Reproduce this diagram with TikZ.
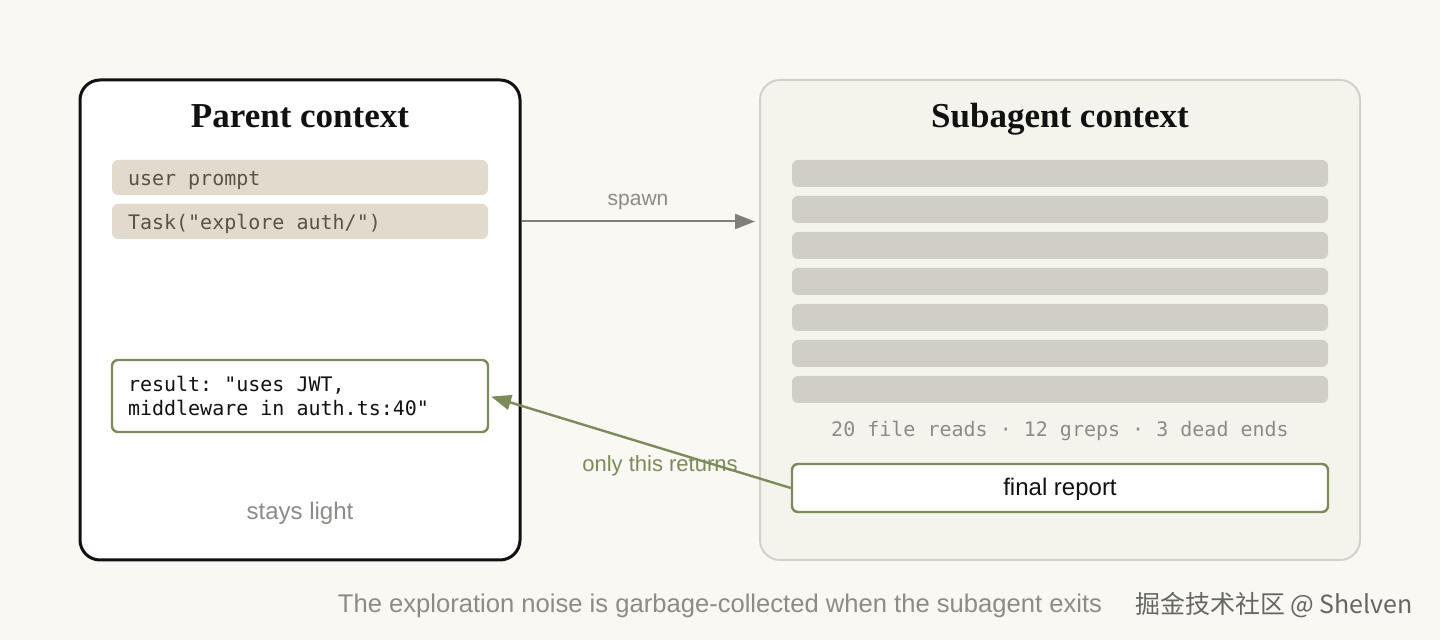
\documentclass[tikz,border=0pt]{standalone}
\usepackage{fontspec}
\setmainfont{Liberation Serif}
\setsansfont{Liberation Sans}
\setmonofont[WordSpace={1,0,0}]{DejaVu Sans Mono}
\newfontfamily\cjkfont{Noto Sans CJK SC}
\usetikzlibrary{arrows.meta}

\definecolor{bgpaper}{RGB}{249,248,243}
\definecolor{parentline}{RGB}{17,17,17}
\definecolor{promptfill}{RGB}{226,218,204}
\definecolor{prompttext}{RGB}{90,82,72}
\definecolor{resultgreen}{RGB}{125,138,92}
\definecolor{subfill}{RGB}{245,244,236}
\definecolor{subline}{RGB}{211,209,201}
\definecolor{noisefill}{RGB}{209,206,198}
\definecolor{softgray}{RGB}{140,140,134}
\definecolor{spawngray}{RGB}{128,128,120}

\begin{document}
\begin{tikzpicture}[x=0.5pt,y=0.5pt,yscale=-1,xscale=1,
    ctxbox/.style={rounded corners=10pt, inner sep=0pt, minimum width=220pt, minimum height=240pt},
    parentbox/.style={ctxbox, draw=parentline, line width=1.5pt, fill=white},
    subbox/.style={ctxbox, draw=subline, line width=1pt, fill=subfill, minimum width=300pt},
    titletext/.style={anchor=base, font=\rmfamily\bfseries\fontsize{17.5}{20}\selectfont, text=parentline},
    monoleft/.style={text width=172pt, align=left, inner xsep=8pt, inner ysep=0pt,
        execute at begin node={\spaceskip=0pt\xspaceskip=0pt}},
    promptbar/.style={monoleft, fill=promptfill, rounded corners=3pt, minimum height=17.5pt,
        text height=8.5pt, text depth=0pt, font=\ttfamily\fontsize{10}{12}\selectfont, text=prompttext},
    resultbox/.style={monoleft, draw=resultgreen, line width=1.2pt, fill=white, rounded corners=3pt,
        minimum height=36pt, font=\ttfamily\fontsize{10}{12}\selectfont, text=parentline},
    noisebar/.style={fill=noisefill, rounded corners=3pt, minimum width=268pt, minimum height=13.5pt, inner sep=0pt},
    reportbox/.style={draw=resultgreen, line width=1.2pt, fill=white, rounded corners=3pt, minimum width=268pt,
        minimum height=24pt, inner sep=0pt, text height=7.5pt, text depth=0pt,
        font=\sffamily\fontsize{12}{14}\selectfont, text=parentline},
    softtext/.style={anchor=base, font=\sffamily\fontsize{11}{13}\selectfont, text=softgray},
    spawnarrow/.style={draw=spawngray, line width=1pt, -{Triangle[length=10pt,width=7.5pt]}},
    returnarrow/.style={draw=resultgreen, line width=1.2pt, -{Triangle[length=10pt,width=7.5pt]}},
  ]
  % paper
  \fill[bgpaper] (0,0) rectangle (1440,640);
  \useasboundingbox (0,0) rectangle (1440,640);

  % Parent context
  \node[parentbox] (parent) at (300,320) {};
  \node[titletext] (parenttitle) at (300,128) {Parent context};
  \node[promptbar] (userprompt) at (300,177.5) {user prompt};
  \node[promptbar] (taskcall) at (300,221.5) {Task("explore auth/")};
  \node[resultbox] (result) at (300,396) {result: "uses JWT,\\middleware in auth.ts:40"};
  \node[softtext, font=\sffamily\fontsize{12}{14}\selectfont] (stayslight) at (300,520) {stays light};

  % Subagent context
  \node[subbox] (subagent) at (1060,320) {};
  \node[titletext] (subtitle) at (1060,128) {Subagent context};
  \foreach \i in {0,...,6}
    \node[noisebar] (noise\i) at (1060,173.5+36*\i) {};
  \node[softtext, font=\ttfamily\fontsize{10}{13}\selectfont] (noisestats) at (1060,437)
    {20 file reads · 12 greps · 3 dead ends};
  \node[reportbox] (report) at (1060,488) {final report};

  % Connections
  \draw[spawnarrow, shorten >=2pt] (parent.east |- taskcall) -- (subagent.west |- taskcall);
  \node[softtext, font=\sffamily\fontsize{10.5}{13}\selectfont] (spawnlabel) at (638,206) {spawn};
  \draw[returnarrow, shorten >=1pt] (report.west) -- (result.east);
  \node[softtext, text=resultgreen] (returnlabel) at (660,472) {only this returns};

  % caption
  \node[softtext, font=\sffamily\fontsize{12.8}{15}\selectfont] (caption) at (720,612)
    {The exploration noise is garbage-collected when the subagent exits};
  \node[anchor=base east, font=\fontsize{12.5}{15}\selectfont, text=black!60] (watermark) at (1420,613)
    {\cjkfont 掘金技术社区 @ Shelven};
\end{tikzpicture}
\end{document}
